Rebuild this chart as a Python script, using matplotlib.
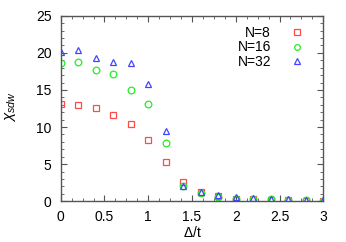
import matplotlib
matplotlib.use("Agg")
import matplotlib.pyplot as plt
from matplotlib.ticker import MultipleLocator

x = [0, 0.2, 0.4, 0.6, 0.8, 1.0, 1.2, 1.4, 1.6, 1.8, 2.0, 2.2, 2.4, 2.6, 2.8, 3.0]
n8 = [13.06, 12.93, 12.52, 11.58, 10.37, 8.21, 5.25, 2.6, 1.2, 0.76, 0.3, 0.3, 0.2, 0.15, 0.1, 0.05]
n16 = [18.67, 18.76, 17.64, 17.15, 14.95, 13.06, 7.81, 2.1, 1.08, 0.63, 0.36, 0.3, 0.25, 0.18, 0.13, 0.1]
n32 = [20.1, 20.4, 19.3, 18.8, 18.65, 15.8, 9.5, 2.1, 1.2, 0.8, 0.6, 0.45, 0.35, 0.27, 0.2, 0.12]

plt.rcParams['font.family'] = ['Liberation Sans', 'DejaVu Sans']
plt.rcParams['font.size'] = 10
plt.rcParams['mathtext.fontset'] = 'custom'
plt.rcParams['mathtext.it'] = 'Liberation Sans:italic'
plt.rcParams['mathtext.rm'] = 'Liberation Sans'

fig = plt.figure(figsize=(3.46, 2.42), dpi=100)
ax = fig.add_axes([0.1754, 0.1682, 0.759, 0.7668])

ax.plot(x, n8, linestyle='none', marker='s', markersize=4.5, markerfacecolor='none',
        markeredgecolor='#ff4a4a', markeredgewidth=0.9, label='N=8')
ax.plot(x, n16, linestyle='none', marker='o', markersize=4.8, markerfacecolor='none',
        markeredgecolor='#22ee22', markeredgewidth=0.9, label='N=16')
ax.plot(x, n32, linestyle='none', marker='^', markersize=4.8, markerfacecolor='none',
        markeredgecolor='#4444ff', markeredgewidth=0.9, label='N=32')

ax.set_xlim(0, 3)
ax.set_ylim(0, 25)
ax.xaxis.set_major_locator(MultipleLocator(0.5))
ax.xaxis.set_minor_locator(MultipleLocator(0.125))
ax.yaxis.set_major_locator(MultipleLocator(5))
ax.yaxis.set_minor_locator(MultipleLocator(1))
ax.set_xticks([0, 0.5, 1, 1.5, 2, 2.5, 3])
ax.set_xticklabels(['0', '0.5', '1', '1.5', '2', '2.5', '3'])
ax.tick_params(which='both', direction='in', top=True, right=True, color='#555555')
ax.tick_params(which='major', length=4, width=0.8)
ax.tick_params(axis='y', which='major', pad=6.5)
ax.tick_params(axis='x', which='major', pad=6)
ax.tick_params(which='minor', length=2, width=0.6)
for s in ax.spines.values():
    s.set_color('#555555')
    s.set_linewidth(1.0)

ax.set_xlabel(r'$\Delta$/t')
ax.set_ylabel(r'$\chi_{sdw}$', fontsize=11)
ax.xaxis.set_label_coords(0.5, -0.13)
ax.yaxis.set_label_coords(-0.163, 0.51)

leg = ax.legend(loc='upper right', frameon=False, markerfirst=False, handlelength=1.0,
                handletextpad=1.37, labelspacing=0.02, borderpad=0, borderaxespad=0,
                markerscale=0.85, bbox_to_anchor=(0.9265, 0.944))
for t in leg.get_texts():
    t.set_ha('right')

fig.savefig('out.png', dpi=100)
